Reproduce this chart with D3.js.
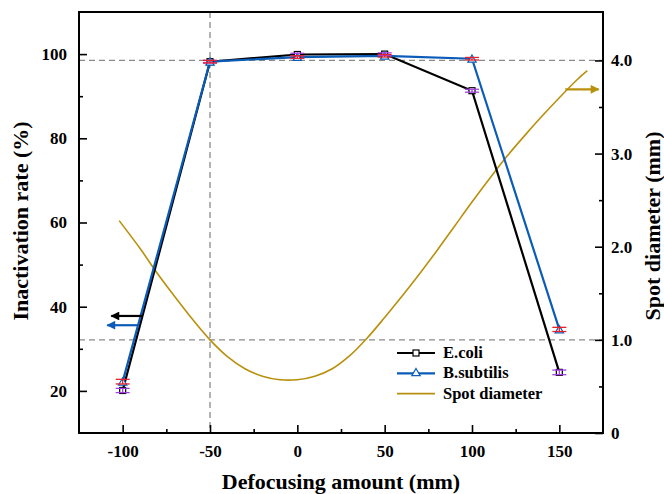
<!DOCTYPE html>
<html><head><meta charset="utf-8">
<script src="https://cdn.jsdelivr.net/npm/d3@7"></script>
<style>
body{margin:0;background:#fff;}
text{font-family:"Liberation Serif","Times New Roman",serif;font-weight:bold;}
</style></head>
<body><svg id="c" width="664" height="494"></svg>
<script>
const defocus = [-100, -50, 0, 50, 100, 150];
const ecoli = [20.1, 98.2, 99.9, 100.0, 91.3, 24.4];
const ecoliErr = [0.5, 0.3, 0.3, 0.3, 0.35, 0.55];
const bsub = [22.2, 98.2, 99.3, 99.6, 98.9, 34.6];
const bsubErr = [0.55, 0.3, 0.3, 0.3, 0.3, 0.5];
const spotX = [-102, -90, -80, -70, -60, -50, -40, -30, -20, -10, 0, 10, 20, 30, 40, 50, 60, 70, 80, 90, 100, 110, 120, 130, 140, 150, 160, 166];
const spotY = [2.28, 1.98, 1.71, 1.46, 1.22, 1.00, 0.82, 0.69, 0.61, 0.572, 0.572, 0.61, 0.69, 0.83, 1.02, 1.24, 1.47, 1.71, 1.96, 2.22, 2.48, 2.73, 2.97, 3.19, 3.40, 3.60, 3.79, 3.89];
const xTicks = [-100, -50, 0, 50, 100, 150];
const xMinor = [-75, -25, 25, 75, 125];
const yLeftTicks = [20, 40, 60, 80, 100];
const yLeftMinor = [30, 50, 70, 90];
const yRightTicks = [0, 1, 2, 3, 4];
const yRightMinor = [0.5, 1.5, 2.5, 3.5];
const legendLabels = ["E.coli", "B.subtilis", "Spot diameter"];

const L = 79, R = 603, T = 12, B = 433;
const svg = d3.select("#c");
const x = d3.scaleLinear().domain([-125, 175]).range([L, R]);
const yl = d3.scaleLinear().domain([10, 110]).range([B, T]);
const yr = d3.scaleLinear().domain([0, 4.52]).range([B, T]);

const cBlack = "#000", cBlue = "#0a5cb8", cGold = "#b8900c", cRed = "#e8202a", cPurple = "#a040e0";

// reference dashed lines
const dash = svg.append("g").attr("stroke", "#8a8a8a").attr("stroke-width", 1.3).attr("stroke-dasharray", "6,4").attr("fill", "none");
[4, 1].forEach(v => dash.append("line").attr("x1", L).attr("x2", R).attr("y1", yr(v)).attr("y2", yr(v)));
dash.append("line").attr("x1", x(-50)).attr("x2", x(-50)).attr("y1", T).attr("y2", B);

// spot diameter curve
svg.append("path").datum(spotX.map((d, i) => [d, spotY[i]]))
  .attr("d", d3.line().x(d => x(d[0])).y(d => yr(d[1])).curve(d3.curveCatmullRom.alpha(0.5)))
  .attr("fill", "none").attr("stroke", cGold).attr("stroke-width", 1.6);

// lines
const line = d3.line().x(d => x(d[0])).y(d => yl(d[1]));
svg.append("path").datum(defocus.map((d, i) => [d, ecoli[i]])).attr("d", line)
  .attr("fill", "none").attr("stroke", cBlack).attr("stroke-width", 2.2);
svg.append("path").datum(defocus.map((d, i) => [d, bsub[i]])).attr("d", line)
  .attr("fill", "none").attr("stroke", cBlue).attr("stroke-width", 2.2);

// markers
svg.append("g").selectAll("rect").data(defocus).join("rect")
  .attr("x", (d) => x(d) - 3).attr("y", (d, i) => yl(ecoli[i]) - 3).attr("width", 6).attr("height", 6)
  .attr("fill", "#fff").attr("stroke", cBlack).attr("stroke-width", 1.2);
const tri = d3.symbol().type(d3.symbolTriangle).size(30);
svg.append("g").selectAll("path").data(defocus).join("path")
  .attr("d", tri).attr("transform", (d, i) => `translate(${x(d)},${yl(bsub[i]) + 1})`)
  .attr("fill", "#fff").attr("stroke", cBlue).attr("stroke-width", 1.2);

// error bars
function errBars(vals, errs, color) {
  const g = svg.append("g").attr("stroke", color).attr("stroke-width", 1.3);
  defocus.forEach((d, i) => {
    const cx = x(d), y1 = yl(vals[i] + errs[i]), y2 = yl(vals[i] - errs[i]);
    g.append("line").attr("x1", cx).attr("x2", cx).attr("y1", y1).attr("y2", y2);
    g.append("line").attr("x1", cx - 7).attr("x2", cx + 7).attr("y1", y1).attr("y2", y1);
    g.append("line").attr("x1", cx - 7).attr("x2", cx + 7).attr("y1", y2).attr("y2", y2);
  });
}
errBars(ecoli, ecoliErr, cPurple);
errBars(bsub, bsubErr, cRed);

// axis arrows
const defs = svg.append("defs");
[["aBlack", cBlack], ["aBlue", cBlue], ["aGold", cGold]].forEach(([id, c]) => {
  defs.append("marker").attr("id", id).attr("viewBox", "0 0 10 10").attr("refX", 9).attr("refY", 5)
    .attr("markerWidth", 5).attr("markerHeight", 4).attr("orient", "auto").attr("markerUnits", "strokeWidth")
    .append("path").attr("d", "M0,0L10,5L0,10Z").attr("fill", c);
});
const arrows = [
  {x1: -89, x2: -106.5, y: yl(37.8), c: cBlack, m: "aBlack"},
  {x1: -91.5, x2: -108.8, y: yl(35.6), c: cBlue, m: "aBlue"},
  {x1: 153.4, x2: 172.5, y: yr(3.69), c: cGold, m: "aGold"}
];
arrows.forEach(a => svg.append("line").attr("x1", x(a.x1)).attr("x2", x(a.x2)).attr("y1", a.y).attr("y2", a.y)
  .attr("stroke", a.c).attr("stroke-width", 2.2).attr("marker-end", `url(#${a.m})`));

// axes
const fs = "17px";
function styleAxis(g) {
  g.selectAll(".domain").remove();
  g.selectAll("text").style("font-size", fs).attr("fill", "#000");
  g.selectAll("line").attr("stroke", "#000").attr("stroke-width", 1.6);
}
const gx = svg.append("g").attr("transform", `translate(0,${B})`)
  .call(d3.axisBottom(x).tickValues(xTicks).tickSize(-8).tickPadding(12).tickFormat(d => String(d)));
styleAxis(gx);
svg.append("g").attr("transform", `translate(0,${B})`)
  .call(d3.axisBottom(x).tickValues(xMinor).tickSize(-4).tickFormat("")).call(styleAxis);
const gl = svg.append("g").attr("transform", `translate(${L},0)`)
  .call(d3.axisLeft(yl).tickValues(yLeftTicks).tickSize(-8).tickPadding(12).tickFormat(d => String(d)));
styleAxis(gl);
svg.append("g").attr("transform", `translate(${L},0)`)
  .call(d3.axisLeft(yl).tickValues(yLeftMinor).tickSize(-4).tickFormat("")).call(styleAxis);
const gr = svg.append("g").attr("transform", `translate(${R},0)`)
  .call(d3.axisRight(yr).tickValues(yRightTicks).tickSize(-8).tickPadding(8).tickFormat(d => d === 0 ? "0" : d3.format(".1f")(d)));
styleAxis(gr);
svg.append("g").attr("transform", `translate(${R},0)`)
  .call(d3.axisRight(yr).tickValues(yRightMinor).tickSize(-4).tickFormat("")).call(styleAxis);

// frame
svg.append("rect").attr("x", L).attr("y", T).attr("width", R - L).attr("height", B - T)
  .attr("fill", "none").attr("stroke", "#000").attr("stroke-width", 2);

// titles
svg.append("text").attr("x", 341).attr("y", 489).attr("text-anchor", "middle")
  .style("font-size", "22px").text("Defocusing amount (mm)");
svg.append("text").attr("transform", `translate(28,221) rotate(-90)`).attr("text-anchor", "middle")
  .style("font-size", "22px").text("Inactivation rate (%)");
svg.append("text").attr("transform", `translate(660,226) rotate(-90)`).attr("text-anchor", "middle")
  .style("font-size", "22px").text("Spot diameter (mm)");

// legend
const lg = svg.append("g").attr("transform", "translate(397,353)");
const legColors = [cBlack, cBlue, cGold];
legendLabels.forEach((lab, i) => {
  const g = lg.append("g").attr("transform", `translate(0,${i * 20.3})`);
  g.append("line").attr("x1", 0).attr("x2", 38).attr("stroke", legColors[i]).attr("stroke-width", i === 2 ? 1.8 : 2.2);
  if (i === 0) g.append("rect").attr("x", 16).attr("y", -3).attr("width", 6).attr("height", 6).attr("fill", "#fff").attr("stroke", cBlack).attr("stroke-width", 1.2);
  if (i === 1) g.append("path").attr("d", tri).attr("transform", "translate(19,0)").attr("fill", "#fff").attr("stroke", cBlue).attr("stroke-width", 1.2);
  g.append("text").attr("x", 46).attr("y", 5).style("font-size", "16.5px").text(lab);
});
</script></body></html>
